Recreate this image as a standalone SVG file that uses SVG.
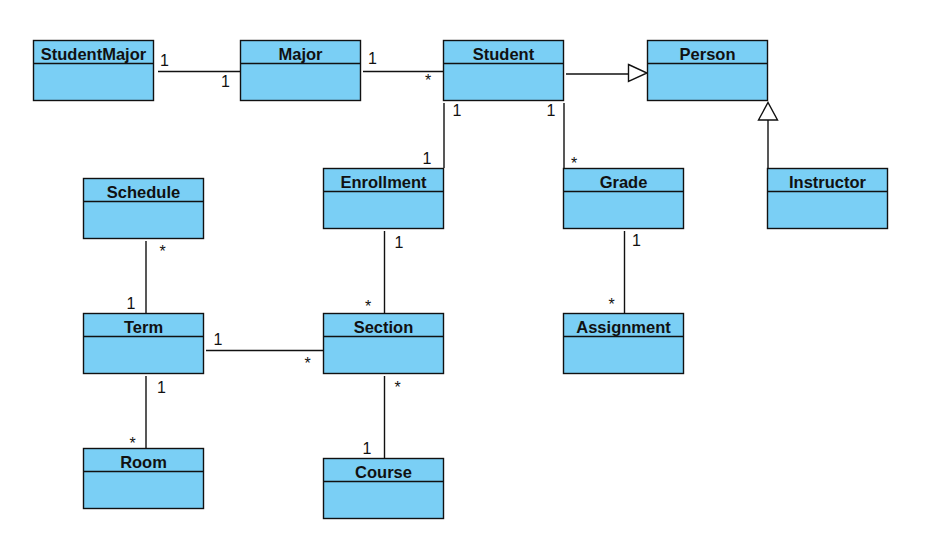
<svg xmlns="http://www.w3.org/2000/svg" width="925" height="542" viewBox="0 0 925 542">
<style>
.box{fill:#7acff5;stroke:#111;stroke-width:1.4}
.sep{stroke:#111;stroke-width:1.4}
.name{font-family:"Liberation Sans",Arial,sans-serif;font-weight:bold;font-size:16.5px;text-anchor:middle;fill:#111}
.ln{stroke:#111;stroke-width:1.4;fill:none}
.tri{fill:#fff;stroke:#111;stroke-width:1.4}
.m{font-family:"Liberation Sans",Arial,sans-serif;font-size:16px;text-anchor:middle;fill:#111}
</style>
<rect width="925" height="542" fill="#fff"/>
<g id="connectors">
<line class="ln" x1="158" y1="71.5" x2="240" y2="71.5"/>
<line class="ln" x1="363" y1="71.5" x2="443" y2="71.5"/>
<line class="ln" x1="566" y1="74" x2="628.5" y2="74"/>
<polygon class="tri" points="628.5,64.5 647,73 628.5,81.5"/>
<line class="ln" x1="768" y1="120" x2="768" y2="168"/>
<polygon class="tri" points="758.5,120 768,102.5 777.5,120"/>
<line class="ln" x1="444" y1="103" x2="444" y2="168"/>
<line class="ln" x1="564" y1="103" x2="564" y2="168"/>
<line class="ln" x1="384.5" y1="231" x2="384.5" y2="313"/>
<line class="ln" x1="146" y1="241" x2="146" y2="313"/>
<line class="ln" x1="206" y1="350.5" x2="323" y2="350.5"/>
<line class="ln" x1="146" y1="376" x2="146" y2="448"/>
<line class="ln" x1="384.5" y1="376" x2="384.5" y2="458"/>
<line class="ln" x1="624.5" y1="231" x2="624.5" y2="313"/>
<text class="m" x="164.5" y="66">1</text>
<text class="m" x="225.5" y="87">1</text>
<text class="m" x="372.5" y="64">1</text>
<text class="m" x="428" y="86">*</text>
<text class="m" x="457" y="116">1</text>
<text class="m" x="551" y="116">1</text>
<text class="m" x="427" y="164">1</text>
<text class="m" x="574" y="169">*</text>
<text class="m" x="162.5" y="257">*</text>
<text class="m" x="131" y="309">1</text>
<text class="m" x="399" y="248">1</text>
<text class="m" x="368" y="312">*</text>
<text class="m" x="218" y="345">1</text>
<text class="m" x="307.5" y="369">*</text>
<text class="m" x="161.5" y="393">1</text>
<text class="m" x="132.5" y="449">*</text>
<text class="m" x="397.5" y="393">*</text>
<text class="m" x="367" y="454">1</text>
<text class="m" x="636.5" y="246">1</text>
<text class="m" x="611.5" y="310">*</text>
</g>
<g id="StudentMajor"><rect class="box" x="33.5" y="40.5" width="120" height="60"/><line class="sep" x1="33.5" y1="63.5" x2="153.5" y2="63.5"/><text class="name" x="93.5" y="59.5">StudentMajor</text></g>
<g id="Major"><rect class="box" x="240.5" y="40.5" width="120" height="60"/><line class="sep" x1="240.5" y1="63.5" x2="360.5" y2="63.5"/><text class="name" x="300.5" y="59.5">Major</text></g>
<g id="Student"><rect class="box" x="443.5" y="40.5" width="120" height="60"/><line class="sep" x1="443.5" y1="63.5" x2="563.5" y2="63.5"/><text class="name" x="503.5" y="59.5">Student</text></g>
<g id="Person"><rect class="box" x="647.5" y="40.5" width="120" height="60"/><line class="sep" x1="647.5" y1="63.5" x2="767.5" y2="63.5"/><text class="name" x="707.5" y="59.5">Person</text></g>
<g id="Enrollment"><rect class="box" x="323.5" y="168.5" width="120" height="60"/><line class="sep" x1="323.5" y1="191.5" x2="443.5" y2="191.5"/><text class="name" x="383.5" y="187.5">Enrollment</text></g>
<g id="Grade"><rect class="box" x="563.5" y="168.5" width="120" height="60"/><line class="sep" x1="563.5" y1="191.5" x2="683.5" y2="191.5"/><text class="name" x="623.5" y="187.5">Grade</text></g>
<g id="Instructor"><rect class="box" x="767.5" y="168.5" width="120" height="60"/><line class="sep" x1="767.5" y1="191.5" x2="887.5" y2="191.5"/><text class="name" x="827.5" y="187.5">Instructor</text></g>
<g id="Schedule"><rect class="box" x="83.5" y="178.5" width="120" height="60"/><line class="sep" x1="83.5" y1="201.5" x2="203.5" y2="201.5"/><text class="name" x="143.5" y="197.5">Schedule</text></g>
<g id="Term"><rect class="box" x="83.5" y="313.5" width="120" height="60"/><line class="sep" x1="83.5" y1="336.5" x2="203.5" y2="336.5"/><text class="name" x="143.5" y="332.5">Term</text></g>
<g id="Section"><rect class="box" x="323.5" y="313.5" width="120" height="60"/><line class="sep" x1="323.5" y1="336.5" x2="443.5" y2="336.5"/><text class="name" x="383.5" y="332.5">Section</text></g>
<g id="Assignment"><rect class="box" x="563.5" y="313.5" width="120" height="60"/><line class="sep" x1="563.5" y1="336.5" x2="683.5" y2="336.5"/><text class="name" x="623.5" y="332.5">Assignment</text></g>
<g id="Room"><rect class="box" x="83.5" y="448.5" width="120" height="60"/><line class="sep" x1="83.5" y1="471.5" x2="203.5" y2="471.5"/><text class="name" x="143.5" y="467.5">Room</text></g>
<g id="Course"><rect class="box" x="323.5" y="458.5" width="120" height="60"/><line class="sep" x1="323.5" y1="481.5" x2="443.5" y2="481.5"/><text class="name" x="383.5" y="477.5">Course</text></g>
</svg>
